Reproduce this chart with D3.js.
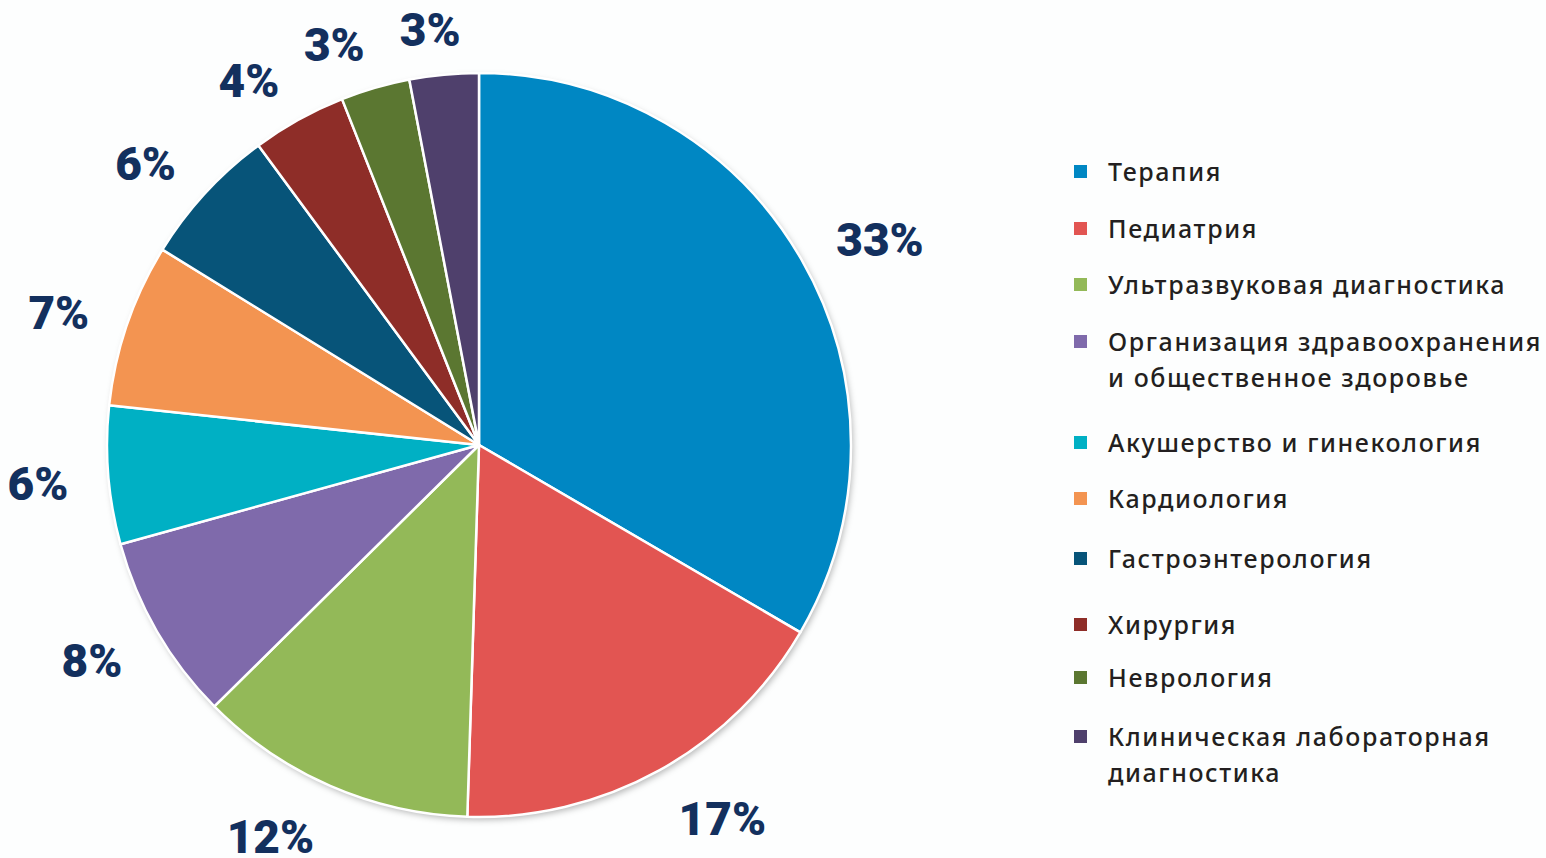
<!DOCTYPE html>
<html>
<head>
<meta charset="utf-8">
<script src="https://cdn.jsdelivr.net/npm/d3@7"></script>
<style>
  html, body { margin: 0; padding: 0; background: #fdfefe; }
  svg { display: block; }
</style>
</head>
<body>
<svg id="chart" width="1546" height="858"></svg>
<script>
const categories = [
  "Терапия",
  "Педиатрия",
  "Ультразвуковая диагностика",
  "Организация здравоохранения\nи общественное здоровье",
  "Акушерство и гинекология",
  "Кардиология",
  "Гастроэнтерология",
  "Хирургия",
  "Неврология",
  "Клиническая лабораторная\nдиагностика"
];
const values = [33.4, 17.1, 12.1, 8.1, 6.0, 7.1, 6.1, 4.1, 3.0, 3.0];
const valueLabels = ["33%", "17%", "12%", "8%", "6%", "7%", "6%", "4%", "3%", "3%"];
const colors = ["#0087c3", "#e25552", "#93b958", "#7f6aab", "#00b0c4",
                "#f39451", "#075479", "#8e2d28", "#5b7731", "#4f406c"];
const legendY = [171, 228, 284, 341, 442, 498, 558, 624, 677, 736];

const svg = d3.select("#chart");
const cx = 479, cy = 445, R = 372, labelR = 412;

const defs = svg.append("defs");
const f = defs.append("filter").attr("id", "shadow")
  .attr("x", "-10%").attr("y", "-10%").attr("width", "120%").attr("height", "120%");
f.append("feDropShadow").attr("dx", 2).attr("dy", 3).attr("stdDeviation", 3)
  .attr("flood-color", "#000").attr("flood-opacity", 0.28);

const pie = d3.pie().sort(null).value(d => d)(values);
const arc = d3.arc().innerRadius(0).outerRadius(R);
const labelArc = d3.arc().innerRadius(labelR).outerRadius(labelR);
const color = d3.scaleOrdinal().domain(d3.range(values.length)).range(colors);

const g = svg.append("g").attr("transform", `translate(${cx},${cy})`);
g.append("circle").attr("r", R).attr("fill", "#fff").attr("filter", "url(#shadow)");
g.selectAll("path.slice").data(pie).join("path")
  .attr("class", "slice")
  .attr("d", arc)
  .attr("fill", (d, i) => color(i))
  .attr("stroke", "#ffffff")
  .attr("stroke-width", 2.5)
  .attr("stroke-linejoin", "round");

// outside-end labels: anchor point on a circle, box pushed outward
g.selectAll("text.pct").data(pie).join("text")
  .attr("class", "pct")
  .attr("text-anchor", "middle")
  .attr("dominant-baseline", "central")
  .attr("font-family", "Roboto, 'DejaVu Sans', sans-serif")
  .attr("font-weight", 900)
  .attr("font-size", 46)
  .attr("fill", "#13305e")
  .text((d, i) => valueLabels[i])
  .each(function(d) {
    const w = this.getComputedTextLength();
    const [px, py] = labelArc.centroid(d);
    const a = (d.startAngle + d.endAngle) / 2;
    const sx = Math.max(-1, Math.min(1, Math.sin(a) * 3.5));
    const x = px + sx * w / 2;
    const y = py - Math.cos(a) * 10 + 5;
    d3.select(this).attr("x", x).attr("y", y);
  });

// Legend
const lg = svg.append("g");
const items = lg.selectAll("g.item").data(categories).join("g")
  .attr("class", "item")
  .attr("transform", (d, i) => `translate(0,${legendY[i]})`);
items.append("rect")
  .attr("x", 1074).attr("y", -6).attr("width", 13).attr("height", 13)
  .attr("fill", (d, i) => color(i));
items.append("text")
  .attr("x", 1108)
  .attr("font-family", "'Noto Sans', 'DejaVu Sans', sans-serif")
  .attr("font-size", 25)
  .attr("font-weight", 500)
  .attr("letter-spacing", 1.6)
  .attr("fill", "#231f20")
  .attr("dominant-baseline", "central")
  .each(function(d) {
    const t = d3.select(this);
    d.split("\n").forEach((line, k) => {
      t.append("tspan").attr("x", 1108).attr("dy", k === 0 ? 0 : 36).text(line);
    });
  });
</script>
</body>
</html>
